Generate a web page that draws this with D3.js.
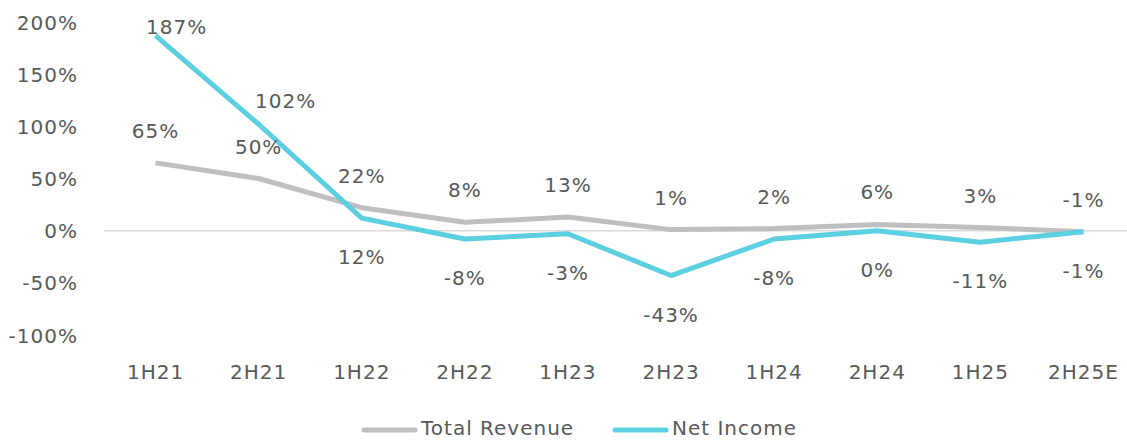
<!doctype html>
<html>
<head>
<meta charset="utf-8">
<style>
  body { margin: 0; background: #fff; }
  svg text { font-family: "DejaVu Sans", sans-serif; font-size: 20px; letter-spacing: 1px; fill: #595959; }
</style>
</head>
<body>
<div id="chart"></div>
<script src="https://d3js.org/d3.v7.min.js"></script>
<script>
var periods = ['1H21', '2H21', '1H22', '2H22', '1H23', '2H23', '1H24', '2H24', '1H25', '2H25E'];
var revenue = [65, 50, 22, 8, 13, 1, 2, 6, 3, -1];
var netIncome = [187, 102, 12, -8, -3, -43, -8, 0, -11, -1];
var yTicks = [-100, -50, 0, 50, 100, 150, 200];

var width = 1127, height = 440;
var svg = d3.select('#chart').append('svg').attr('width', width).attr('height', height);

var x = d3.scaleBand().domain(periods).range([104, 1135]);
var y = d3.scaleLinear().domain([-100, 200]).range([335, 22]);
var cx = function(d, i){ return x(periods[i]) + x.bandwidth() / 2; };

// y axis labels, no line
var yAxis = d3.axisLeft(y).tickValues(yTicks).tickSize(0).tickPadding(0)
    .tickFormat(function(d){ return d + '%'; });
svg.append('g').attr('transform', 'translate(78,0)').call(yAxis)
    .call(function(g){ g.select('.domain').remove(); })
    .selectAll('text').attr('dy', '0.35em');

// zero line
svg.append('line').attr('x1', 104).attr('x2', 1135).attr('y1', y(0)).attr('y2', y(0))
    .attr('stroke', '#d9d9d9').attr('stroke-width', 1.5);

// x axis labels
var xAxis = d3.axisBottom(x).tickSize(0).tickPadding(0);
svg.append('g').attr('transform', 'translate(0,372)').call(xAxis)
    .call(function(g){ g.select('.domain').remove(); })
    .selectAll('text').attr('dy', '0.35em');
svg.selectAll('.tick text').attr('fill', null);
svg.selectAll('g').attr('font-size', null).attr('font-family', null);

var line = d3.line().x(cx).y(function(d){ return y(d); });

svg.append('path').datum(revenue).attr('d', line)
    .attr('fill', 'none').attr('stroke', '#bfbfbf').attr('stroke-width', 5).attr('stroke-linejoin', 'round');
svg.append('path').datum(netIncome).attr('d', line)
    .attr('fill', 'none').attr('stroke', '#5ccfe0').attr('stroke-width', 5).attr('stroke-linejoin', 'round');

// data labels: revenue above, net income below (first two moved up/right)
svg.append('g').selectAll('text').data(revenue).join('text')
    .attr('x', cx).attr('y', function(d){ return y(d) - 32; })
    .attr('dy', '0.35em').attr('text-anchor', 'middle')
    .text(function(d){ return d + '%'; });

svg.append('g').selectAll('text').data(netIncome).join('text')
    .attr('x', function(d, i){
        if (i === 0) return cx(d, i) + 21;
        if (i === 1) return cx(d, i) + 27;
        return cx(d, i);
    })
    .attr('y', function(d, i){
        if (i === 0) return y(d) - 9;
        if (i === 1) return y(d) - 23;
        return y(d) + 39;
    })
    .attr('dy', '0.35em').attr('text-anchor', 'middle')
    .text(function(d){ return d + '%'; });

// legend
var legend = [{name: 'Total Revenue', color: '#bfbfbf', x: 362}, {name: 'Net Income', color: '#5ccfe0', x: 613}];
var lg = svg.append('g').selectAll('g').data(legend).join('g')
    .attr('transform', function(d){ return 'translate(' + d.x + ',429)'; });
lg.append('line').attr('x1', 2).attr('x2', 53).attr('y1', 1).attr('y2', 1).attr('stroke', function(d){ return d.color; })
    .attr('stroke-width', 5).attr('stroke-linecap', 'round');
lg.append('text').attr('x', 59).attr('dy', '0.3em').text(function(d){ return d.name; });
</script>
</body>
</html>
